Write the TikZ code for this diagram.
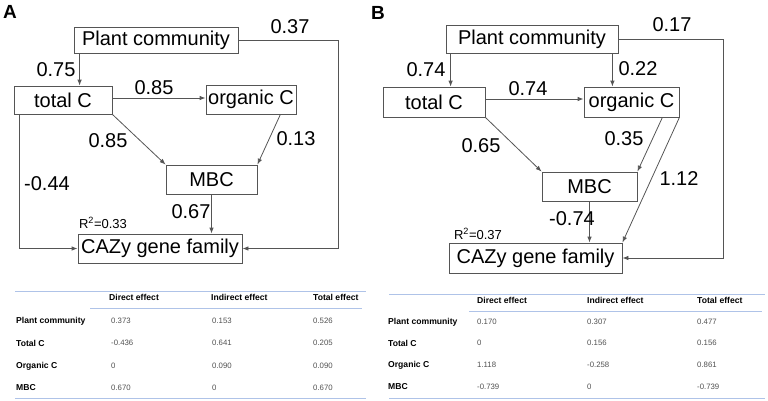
\documentclass[tikz,border=0pt]{standalone}
\usepackage{fontspec}
\setmainfont{Liberation Sans}
\usetikzlibrary{arrows.meta}
\definecolor{ln}{RGB}{85,85,85}
\definecolor{tl}{RGB}{175,195,232}
\definecolor{vl}{RGB}{80,80,80}
\tikzset{
  >={Latex[length=6pt,width=4.5pt]},
  bx/.style 2 args={draw=ln, line width=0.8pt, inner sep=0pt, minimum width=#1, minimum height=#2, font=\fontsize{20pt}{20pt}\selectfont},
  nm/.style={inner sep=0pt, font=\fontsize{20pt}{20pt}\selectfont},
  rq/.style={inner sep=0pt, font=\fontsize{13pt}{13pt}\selectfont},
  pl/.style={inner sep=0pt, font=\fontsize{19pt}{19pt}\selectfont\bfseries},
  ar/.style={->, draw=ln, line width=0.8pt},
  hd/.style={anchor=west, inner sep=0pt, font=\fontsize{8.6pt}{9pt}\selectfont\bfseries},
  vv/.style={anchor=west, inner sep=0pt, text=vl, font=\fontsize{7.8pt}{8pt}\selectfont},
  tr/.style={draw=tl, line width=1pt}
}
\begin{document}
\begin{tikzpicture}[x=1pt, y=-1pt]
\useasboundingbox (0,0) rectangle (768,400);

% panel A
\node[pl] (lA) at (10,12) {A};
\node[bx={164pt}{26pt}] (pcA) at (156,40) {Plant community};
\node[bx={98pt}{28pt}] (tcA) at (63,100) {total C};
\node[bx={90pt}{29pt}] (ocA) at (251,99.5) {organic C};
\node[bx={91pt}{29pt}] (mbA) at (211.5,179.5) {MBC};
\node[bx={164pt}{29pt}] (czA) at (160,248.5) {CAZy gene family};

\draw[ar] ([xshift=6pt]pcA.south west) -- ([xshift=6pt]pcA.south west |- tcA.north);
\draw[ar] (pcA.east) -- ++(100,0) |- (czA.east);
\draw[ar] ([yshift=2pt]tcA.east) -- ([yshift=2pt]tcA.east -| ocA.west);
\draw[ar] (tcA.south east) -- (mbA.north west);
\draw[ar] ([xshift=-16pt]ocA.south east) -- (mbA.north east);
\draw[ar] (mbA.south) -- (mbA.south |- czA.north);
\draw[ar] ([xshift=6pt]tcA.south west) |- (czA.west);

\node[nm] (a1) at (290,27) {0.37};
\node[nm] (a2) at (56,70) {0.75};
\node[nm] (a3) at (154,88) {0.85};
\node[nm] (a4) at (296,139) {0.13};
\node[nm] (a5) at (108,141) {0.85};
\node[nm] (a6) at (191,212) {0.67};
\node[nm] (a7) at (47,184) {-0.44};
\node[rq] (rA) at (103,223) {R\textsuperscript{2}=0.33};

% panel B
\node[pl] (lB) at (378,13) {B};
\node[bx={172pt}{28pt}] (pcB) at (532,39) {Plant community};
\node[bx={102pt}{30pt}] (tcB) at (434,102) {total C};
\node[bx={95pt}{30pt}] (ocB) at (631.5,102) {organic C};
\node[bx={95pt}{29pt}] (mbB) at (589.5,186.5) {MBC};
\node[bx={173pt}{30pt}] (czB) at (535.5,258) {CAZy gene family};

\draw[ar] ([xshift=5pt]pcB.south west) -- ([xshift=5pt]pcB.south west |- tcB.north);
\draw[ar] ([xshift=-6pt]pcB.south east) -- ([xshift=-6pt]pcB.south east |- ocB.north);
\draw[ar] (pcB.east) -- ++(105,0) |- (czB.east);
\draw[ar] ([yshift=3pt]tcB.east) -- ([yshift=3pt]tcB.east -| ocB.west);
\draw[ar] (tcB.south east) -- (mbB.north west);
\draw[ar] ([xshift=-17pt]ocB.south east) -- (mbB.north east);
\draw[ar] (ocB.south east) -- (czB.north east);
\draw[ar] (mbB.south) -- (mbB.south |- czB.north);

\node[nm] (b1) at (672,25) {0.17};
\node[nm] (b2) at (426,70) {0.74};
\node[nm] (b3) at (638,69) {0.22};
\node[nm] (b4) at (528,89) {0.74};
\node[nm] (b5) at (624,139) {0.35};
\node[nm] (b6) at (679,179) {1.12};
\node[nm] (b7) at (481,146) {0.65};
\node[nm] (b8) at (572,219) {-0.74};
\node[rq] (rB) at (478,234) {R\textsuperscript{2}=0.37};

% table A
\draw[tr] (15,291) -- (366,291);
\draw[tr] (90,308) -- (362,308);
\draw[tr] (15,398) -- (366,398);
\node[hd] (hA1) at (109,297) {Direct effect};
\node[hd] (hA2) at (211,297) {Indirect effect};
\node[hd] (hA3) at (313,297) {Total effect};
\foreach \y/\n/\p/\q/\r [count=\i] in {321/Plant community/0.373/0.153/0.526,
    343/Total C/-0.436/0.641/0.205, 366/Organic C/0/0.090/0.090, 388/MBC/0.670/0/0.670}{
  \node[hd] (rA\i) at (16,\y) {\n};
  \node[vv] (dA\i) at (111,\y) {\p};
  \node[vv] (iA\i) at (212,\y) {\q};
  \node[vv] (sA\i) at (313,\y) {\r};
}

% table B
\draw[tr] (389,294) -- (765,294);
\draw[tr] (469,311) -- (762,311);
\draw[tr] (389,398) -- (765,398);
\node[hd] (hB1) at (477,300) {Direct effect};
\node[hd] (hB2) at (587,300) {Indirect effect};
\node[hd] (hB3) at (697,300) {Total effect};
\foreach \y/\n/\p/\q/\r [count=\i] in {322/Plant community/0.170/0.307/0.477,
    343/Total C/0/0.156/0.156, 365/Organic C/1.118/-0.258/0.861, 387/MBC/-0.739/0/-0.739}{
  \node[hd] (rB\i) at (388,\y) {\n};
  \node[vv] (dB\i) at (477,\y) {\p};
  \node[vv] (iB\i) at (587,\y) {\q};
  \node[vv] (sB\i) at (697,\y) {\r};
}
\end{tikzpicture}
\end{document}
